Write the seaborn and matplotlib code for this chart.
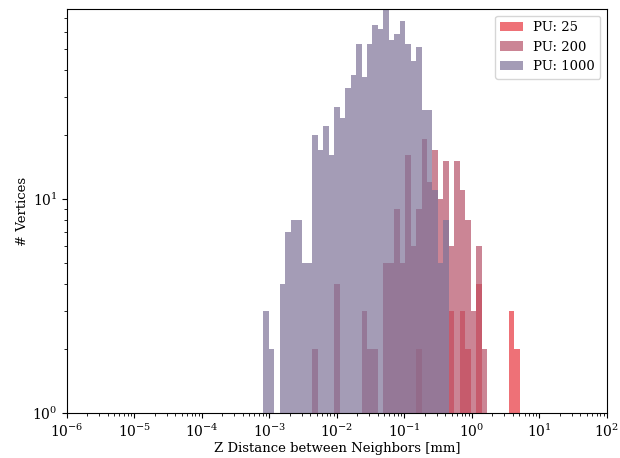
import numpy as np
import matplotlib
matplotlib.use("Agg")
import matplotlib.pyplot as plt
import seaborn as sns

# Histogram bin edges (log10 of distance in mm): 99 log-spaced bins 1e-6 .. 1e2
log_edges = list(np.linspace(-6, 2, 100))

labels = ["PU: 25", "PU: 200", "PU: 1000"]
colors = ["#e7353e", "#b65268", "#7e7398"]

# Bin-centre distances [mm] and vertex counts
pu25_dist = [0.1630, 0.4977, 0.7221, 0.8697, 1.262, 3.853, 4.642]
pu25_count = [2, 3, 3, 2, 4, 3, 2]

pu200_dist = [4.751e-3, 1.000e-2, 2.536e-2, 3.054e-2, 3.679e-2, 5.337e-2,
              6.429e-2, 7.743e-2, 9.326e-2, 0.1123, 0.1353, 0.1630, 0.1963,
              0.2364, 0.2848, 0.3430, 0.4132, 0.4977, 0.5995, 0.7221,
              0.8697, 1.0476, 1.262, 1.520]
pu200_count = [2, 4, 3, 2, 2, 5, 5, 9, 5, 16, 6, 9, 19, 12, 17, 10, 15, 6,
               15, 11, 8, 3, 6, 2]

pu1000_dist = [8.903e-4, 1.072e-3, 1.291e-3, 1.556e-3, 1.874e-3, 2.257e-3,
               2.719e-3, 3.275e-3, 3.945e-3, 4.751e-3, 5.723e-3, 6.894e-3,
               8.304e-3, 1.000e-2, 1.205e-2, 1.451e-2, 1.748e-2, 2.105e-2,
               2.536e-2, 3.054e-2, 3.679e-2, 4.431e-2, 5.337e-2, 6.429e-2,
               7.743e-2, 9.326e-2, 0.1123, 0.1353, 0.1630, 0.1963, 0.2364,
               0.2848, 0.3430, 0.4132]
pu1000_count = [3, 2, 0, 4, 7, 8, 8, 5, 5, 20, 17, 22, 16, 27, 24, 33, 38,
                53, 37, 53, 65, 62, 77, 55, 59, 68, 53, 44, 51, 26, 26, 11,
                5, 8]

series = [(pu25_dist, pu25_count), (pu200_dist, pu200_count),
          (pu1000_dist, pu1000_count)]

plt.rcParams["font.family"] = ["DejaVu Serif"]
plt.rcParams["font.size"] = 9.5
plt.rcParams["xtick.labelsize"] = 10
plt.rcParams["ytick.labelsize"] = 10

fig, ax = plt.subplots(figsize=(6.2, 4.58), dpi=100)
fig.subplots_adjust(left=0.108, right=0.979, bottom=0.098, top=0.980)

for (d, c), lab, col in zip(series, labels, colors):
    sns.histplot(x=d, weights=c, bins=log_edges, log_scale=True,
                 element="step", fill=True, linewidth=0, alpha=0.7,
                 color=col, label=lab, ax=ax)

ax.set_yscale("log")
ax.set_xlim(1e-6, 1e2)
ax.set_ylim(1, 77)
ax.set_xlabel("Z Distance between Neighbors [mm]", labelpad=1)
ax.set_ylabel("# Vertices", labelpad=2)
ax.legend(loc="upper right", handlelength=1.7)

fig.savefig("out.png", dpi=100)
